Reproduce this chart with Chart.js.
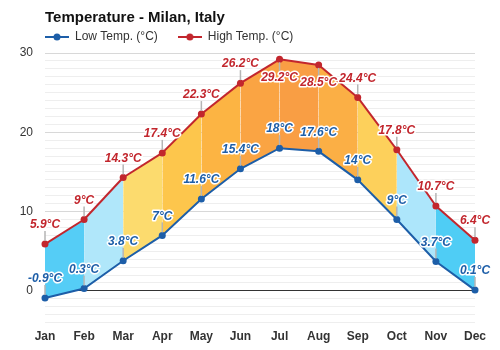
<!DOCTYPE html>
<html>
<head>
<meta charset="utf-8">
<script src="https://cdn.jsdelivr.net/npm/chart.js@4"></script>
<style>
  html, body { margin: 0; padding: 0; background: #fff; }
  #wrap { width: 500px; height: 350px; }
</style>
</head>
<body>
<div id="wrap"><canvas id="tempChart"></canvas></div>
<script>
const months = ["Jan", "Feb", "Mar", "Apr", "May", "Jun", "Jul", "Aug", "Sep", "Oct", "Nov", "Dec"];
const lowTemps = [-0.9, 0.3, 3.8, 7, 11.6, 15.4, 18, 17.6, 14, 9, 3.7, 0.1];
const highTemps = [5.9, 9, 14.3, 17.4, 22.3, 26.2, 29.2, 28.5, 24.4, 17.8, 10.7, 6.4];
const yTickLabels = [0, 10, 20, 30];

// colours
const lowColor = '#1d5ea8';
const highColor = '#c2262d';
const bandColors = ['#55cdf6', '#b0e7fa', '#fcdb6e', '#fdc64c', '#fcb443', '#faa443',
                    '#f99e44', '#fbaf45', '#fdd05b', '#ade6fb', '#4fcdf5'];

const font = '"Liberation Sans", Arial, sans-serif';

// legend icon: line with a dot
function legendIcon(color) {
    const c = document.createElement('canvas');
    c.width = 24; c.height = 10;
    const g = c.getContext('2d');
    g.strokeStyle = color; g.lineWidth = 2;
    g.beginPath(); g.moveTo(0, 5); g.lineTo(24, 5); g.stroke();
    g.fillStyle = color;
    g.beginPath(); g.arc(12, 5, 3.5, 0, Math.PI * 2); g.fill();
    return c;
}
const icons = [legendIcon(lowColor), legendIcon(highColor)];

// line the legend up with the plot's left edge
const legendShift = {
    id: 'legendShift',
    afterLayout(chart) {
        const lg = chart.legend;
        lg.left = chart.chartArea.left - lg.options.labels.padding;
    }
};

// value labels with a small connector
const valueLabels = {
    id: 'valueLabels',
    afterDatasetsDraw(chart) {
        const ctx = chart.ctx;
        const top = chart.chartArea.top;
        ctx.save();
        ctx.font = 'italic bold 12px ' + font;
        ctx.textAlign = 'center';
        ctx.textBaseline = 'middle';
        chart.data.datasets.forEach((ds, di) => {
            const meta = chart.getDatasetMeta(di);
            meta.data.forEach((pt, i) => {
                let ly = pt.y - 19;
                let below = false;
                if (ly - 7 < top) { ly = pt.y + 18; below = true; }
                ctx.strokeStyle = '#b5b5b5';
                ctx.lineWidth = 1.5;
                ctx.beginPath();
                if (below) { ctx.moveTo(pt.x, pt.y + 3); ctx.lineTo(pt.x, ly - 6); }
                else { ctx.moveTo(pt.x, pt.y - 3); ctx.lineTo(pt.x, ly + 6); }
                ctx.stroke();
                const txt = ds.data[i] + '°C';
                ctx.lineWidth = 3;
                ctx.lineJoin = 'round';
                ctx.strokeStyle = '#fff';
                ctx.strokeText(txt, pt.x, ly);
                ctx.fillStyle = ds.borderColor;
                ctx.fillText(txt, pt.x, ly);
            });
        });
        ctx.restore();
    }
};

const ctx = document.getElementById('tempChart').getContext('2d');
const tempChart = new Chart(ctx, {
    type: 'line',
    data: {
        labels: months,
        datasets: [{
            label: 'Low Temp. (°C)',
            data: lowTemps,
            borderColor: lowColor,
            backgroundColor: lowColor,
            pointBackgroundColor: lowColor,
            borderWidth: 2,
            pointRadius: 3.5,
            pointBorderWidth: 0,
            fill: false,
            tension: 0
        }, {
            label: 'High Temp. (°C)',
            data: highTemps,
            borderColor: highColor,
            backgroundColor: highColor,
            pointBackgroundColor: highColor,
            borderWidth: 2,
            pointRadius: 3.5,
            pointBorderWidth: 0,
            fill: '-1',
            tension: 0,
            segment: {
                backgroundColor: c => bandColors[c.p0DataIndex]
            }
        }]
    },
    options: {
        responsive: true,
        maintainAspectRatio: false,
        animation: false,
        layout: { padding: { left: 0, right: 25, top: 0, bottom: -1 } },
        plugins: {
            title: {
                display: true,
                text: 'Temperature - Milan, Italy',
                align: 'start',
                fullSize: false,
                color: '#111',
                font: { family: font, size: 15, weight: 'bold' },
                padding: { top: 9, bottom: -16 }
            },
            legend: {
                align: 'start',
                labels: {
                    usePointStyle: true,
                    pointStyleWidth: 24,
                    padding: 20,
                    color: '#333',
                    font: { family: font, size: 12 },
                    generateLabels: chart => Chart.defaults.plugins.legend.labels.generateLabels(chart)
                        .map((item, i) => Object.assign(item, { pointStyle: icons[i] }))
                }
            },
            tooltip: { enabled: false }
        },
        scales: {
            x: {
                offset: false,
                grid: { display: false, drawTicks: false },
                border: { display: false },
                ticks: {
                    padding: 7,
                    color: '#333',
                    font: { family: font, size: 12, weight: 'bold' },
                    maxRotation: 0
                }
            },
            y: {
                min: -4,
                max: 30,
                afterFit: s => { s.width = 45; },
                border: { display: false },
                grid: {
                    drawTicks: false,
                    color: c => c.tick.value === 0 ? '#333' : (c.tick.value % 10 === 0 ? '#d8d8d8' : '#eeeeee'),
                    lineWidth: 1
                },
                ticks: {
                    stepSize: 1,
                    autoSkip: false,
                    padding: 12,
                    color: '#333',
                    font: { family: font, size: 12 },
                    callback: v => yTickLabels.includes(v) ? String(v) : ''
                }
            }
        }
    },
    plugins: [legendShift, valueLabels]
});
</script>
</body>
</html>
